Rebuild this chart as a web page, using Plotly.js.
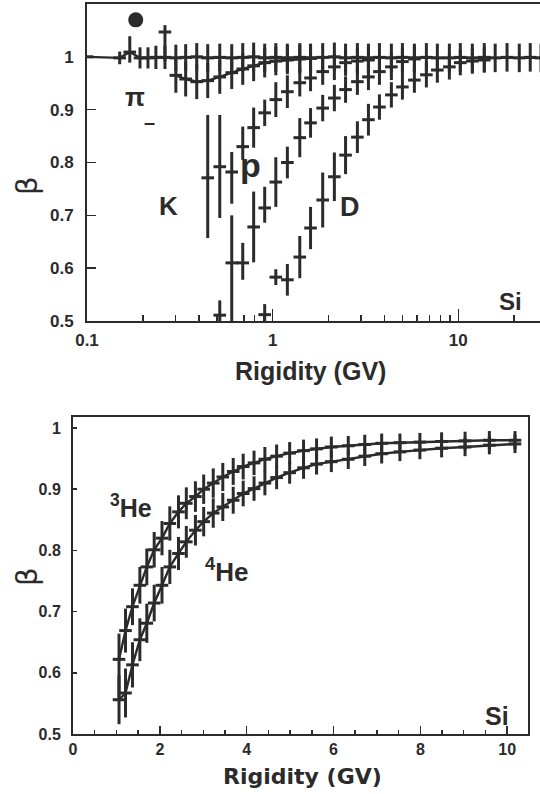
<!DOCTYPE html>
<html><head><meta charset="utf-8">
<script src="https://cdn.plot.ly/plotly-3.0.1.min.js"></script>
<style>html,body{margin:0;padding:0;background:#fff}#chart{width:540px;height:794px}</style>
</head><body><div id="chart"></div>
<script>
// ---------- TOP PANEL DATA (Rigidity GV, beta) ----------
const bandX = [0.1, 0.150, 0.170, 0.193, 0.213, 0.235, 0.263, 0.301, 0.340, 0.390, 0.447, 0.519, 0.602, 0.690, 0.790, 0.906, 1.04, 1.20, 1.40, 1.60, 1.86, 2.15, 2.47, 2.86, 3.28, 3.76, 4.36, 5.00, 5.80, 6.73, 7.71, 8.95, 10.25, 11.9, 13.8, 15.8, 18.3, 21.3, 24.4, 27.9];
const bandY = [1.000, 0.998, 1.009, 0.998, 0.998, 0.999, 0.999, 0.998, 0.999, 1.000, 0.998, 0.999, 0.998, 0.999, 1.000, 0.998, 0.999, 0.998, 0.999, 0.998, 0.999, 1.000, 0.998, 0.999, 0.998, 0.999, 0.998, 0.999, 0.998, 0.999, 0.998, 0.998, 0.999, 0.998, 0.999, 0.998, 0.999, 0.998, 0.999, 0.998];
const bandErrUp = [0, 0.012, 0.03, 0.02, 0.02, 0.022, 0.022, 0.025, 0.025, 0.026, 0.026, 0.026, 0.026, 0.027, 0.027, 0.027, 0.027, 0.027, 0.027, 0.027, 0.027, 0.027, 0.027, 0.027, 0.027, 0.027, 0.027, 0.027, 0.027, 0.027, 0.027, 0.027, 0.027, 0.027, 0.027, 0.027, 0.027, 0.027, 0.027, 0.027];
const bandErrDn = [0, 0.012, 0.02, 0.02, 0.02, 0.022, 0.022, 0.025, 0.025, 0.026, 0.026, 0.026, 0.026, 0.027, 0.027, 0.027, 0.027, 0.027, 0.027, 0.027, 0.027, 0.027, 0.027, 0.027, 0.027, 0.027, 0.027, 0.027, 0.027, 0.027, 0.027, 0.027, 0.027, 0.027, 0.027, 0.027, 0.027, 0.027, 0.027, 0.027];

const hiX = [0.263];
const hiY = [1.047];
const hiErrUp = [0.013];
const hiErrDn = [0.055];

const dotX = [0.183];
const dotY = [1.07];

const piX = [0.301, 0.340, 0.390, 0.447, 0.519, 0.602, 0.690, 0.790, 0.906, 1.04, 1.20, 1.40, 1.60];
const piY = [0.965, 0.958, 0.953, 0.955, 0.962, 0.970, 0.977, 0.983, 0.989, 0.992, 0.994, 0.996, 0.997];
const piErr = [0.033, 0.033, 0.033, 0.033, 0.032, 0.031, 0.03, 0.029, 0.028, 0.027, 0.027, 0.027, 0.027];

const kX = [0.447, 0.519, 0.602, 0.690, 0.790, 0.906, 1.04, 1.20, 1.40, 1.60, 1.86, 2.15, 2.47, 2.86, 3.28];
const kY = [0.771, 0.792, 0.782, 0.830, 0.866, 0.894, 0.919, 0.934, 0.951, 0.960, 0.972, 0.981, 0.989, 0.992, 0.994];
const kErrUp = [0.119, 0.098, 0.038, 0.038, 0.038, 0.025, 0.033, 0.031, 0.026, 0.025, 0.025, 0.025, 0.025, 0.025, 0.025];
const kErrDn = [0.114, 0.097, 0.06, 0.025, 0.038, 0.025, 0.033, 0.031, 0.026, 0.025, 0.025, 0.025, 0.025, 0.025, 0.025];

const pX = [0.519, 0.602, 0.690, 0.790, 0.906, 1.04, 1.20, 1.40, 1.60, 1.86, 2.15, 2.47, 2.86, 3.28, 3.76, 4.36, 5.00, 5.80];
const pY = [0.511, 0.610, 0.610, 0.678, 0.714, 0.763, 0.800, 0.847, 0.875, 0.903, 0.922, 0.938, 0.953, 0.962, 0.972, 0.981, 0.991, 0.996];
const pErrUp = [0.028, 0.09, 0.038, 0.067, 0.04, 0.047, 0.03, 0.037, 0.028, 0.025, 0.025, 0.025, 0.025, 0.025, 0.025, 0.025, 0.025, 0.025];
const pErrDn = [0.02, 0.2, 0.032, 0.067, 0.028, 0.047, 0.03, 0.037, 0.028, 0.025, 0.025, 0.025, 0.025, 0.025, 0.025, 0.025, 0.025, 0.025];

const dX = [0.906, 1.04, 1.20, 1.40, 1.60, 1.86, 2.15, 2.47, 2.86, 3.28, 3.76, 4.36, 5.00, 5.80, 6.73, 7.71, 8.95, 10.25, 11.9, 13.8];
const dY = [0.512, 0.583, 0.578, 0.621, 0.676, 0.729, 0.773, 0.814, 0.848, 0.881, 0.905, 0.928, 0.943, 0.956, 0.966, 0.975, 0.981, 0.989, 0.992, 0.994];
const dErr = [0.02, 0.015, 0.03, 0.04, 0.04, 0.052, 0.046, 0.036, 0.03, 0.03, 0.024, 0.024, 0.024, 0.024, 0.024, 0.024, 0.024, 0.024, 0.024, 0.024];

// ---------- BOTTOM PANEL DATA ----------
const heX = [1.06, 1.21, 1.37, 1.54, 1.70, 1.87, 2.05, 2.23, 2.43, 2.61, 2.82, 3.01, 3.23, 3.45, 3.69, 3.92, 4.17, 4.42, 4.69, 4.99, 5.31, 5.61, 5.95, 6.34, 6.72, 7.11, 7.53, 7.99, 8.49, 9.03, 9.59, 10.18];
const he3Y = [0.622, 0.669, 0.708, 0.743, 0.773, 0.801, 0.820, 0.844, 0.863, 0.877, 0.888, 0.900, 0.910, 0.920, 0.929, 0.937, 0.943, 0.949, 0.954, 0.959, 0.963, 0.966, 0.969, 0.971, 0.973, 0.975, 0.976, 0.977, 0.978, 0.979, 0.980, 0.980];
const he3ErrUp = [0.042, 0.036, 0.03, 0.03, 0.03, 0.029, 0.028, 0.028, 0.027, 0.026, 0.025, 0.024, 0.024, 0.023, 0.022, 0.021, 0.02, 0.02, 0.019, 0.018, 0.018, 0.017, 0.017, 0.016, 0.016, 0.016, 0.015, 0.015, 0.015, 0.015, 0.015, 0.015];
const he3ErrDn = [0.065, 0.036, 0.03, 0.03, 0.03, 0.029, 0.028, 0.028, 0.027, 0.026, 0.025, 0.024, 0.024, 0.023, 0.022, 0.021, 0.02, 0.02, 0.019, 0.018, 0.018, 0.017, 0.017, 0.016, 0.016, 0.016, 0.015, 0.015, 0.015, 0.015, 0.015, 0.015];
const he4Y = [0.556, 0.567, 0.613, 0.654, 0.681, 0.714, 0.743, 0.773, 0.795, 0.814, 0.833, 0.847, 0.861, 0.871, 0.882, 0.893, 0.901, 0.910, 0.919, 0.927, 0.935, 0.941, 0.945, 0.949, 0.954, 0.958, 0.961, 0.964, 0.967, 0.969, 0.972, 0.974];
const he4Err = [0.04, 0.04, 0.037, 0.035, 0.032, 0.03, 0.03, 0.028, 0.027, 0.026, 0.025, 0.024, 0.024, 0.023, 0.022, 0.021, 0.02, 0.02, 0.019, 0.018, 0.018, 0.017, 0.017, 0.016, 0.016, 0.016, 0.015, 0.015, 0.015, 0.015, 0.015, 0.015];

// ---------- TICKS ----------
const topXTicks = [0.1, 1, 10];
const topXLabels = ['0.1', '1', '10'];
const topXMinor = [0.2,0.3,0.4,0.5,0.6,0.7,0.8,0.9,2,3,4,5,6,7,8,9,20];
const topYTicks = [0.5, 0.6, 0.7, 0.8, 0.9, 1];
const topYLabels = ['0.5', '0.6', '0.7', '0.8', '0.9', '1'];
const botXTicks = [0, 2, 4, 6, 8, 10];
const botXLabels = ['0', '2', '4', '6', '8', '10'];
const botYTicks = [0.5, 0.6, 0.7, 0.8, 0.9, 1];
const botYLabels = ['0.5', '0.6', '0.7', '0.8', '0.9', '1'];

const INK = '#2b2b2b';
const TF = {family: 'Liberation Sans, Arial, sans-serif', size: 17, color: INK, weight: 700};

function errTrace(x, y, up, dn, xa, ya, mode) {
  return {
    type: 'scatter', x: x, y: y, xaxis: xa, yaxis: ya, mode: mode || 'markers',
    line: {color: INK, width: 2.4},
    marker: {symbol: 'line-ew', size: 9, color: INK, line: {color: INK, width: 3}},
    error_y: {type: 'data', symmetric: false, array: up, arrayminus: dn, thickness: 3, width: 0, color: INK},
    showlegend: false, hoverinfo: 'skip'
  };
}

const traces = [
  errTrace(bandX, bandY, bandErrUp, bandErrDn, 'x', 'y', 'lines+markers'),
  errTrace(piX, piY, piErr, piErr, 'x', 'y', 'lines+markers'),
  errTrace(kX, kY, kErrUp, kErrDn, 'x', 'y'),
  errTrace(pX, pY, pErrUp, pErrDn, 'x', 'y'),
  errTrace(dX, dY, dErr, dErr, 'x', 'y'),
  errTrace(hiX, hiY, hiErrUp, hiErrDn, 'x', 'y'),
  {type: 'scatter', x: dotX, y: dotY, xaxis: 'x', yaxis: 'y', mode: 'markers',
   marker: {symbol: 'circle', size: 15, color: INK}, showlegend: false, hoverinfo: 'skip'},
  errTrace(heX, he3Y, he3ErrUp, he3ErrDn, 'x2', 'y2', 'lines+markers'),
  errTrace(heX, he4Y, he4Err, he4Err, 'x2', 'y2', 'lines+markers')
];

const W = 540, H = 794;
const px = v => v / W;
const py = v => 1 - v / H;

function ann(text, x, y, size, family, extra, weight) {
  return Object.assign({
    text: text, xref: 'paper', yref: 'paper', x: px(x), y: py(y),
    xanchor: 'center', yanchor: 'middle', showarrow: false,
    font: {family: family || 'Liberation Sans, Arial, sans-serif', size: size, color: INK, weight: weight || 700}
  }, extra || {});
}

const layout = {
  width: W, height: H, margin: {l: 0, r: 0, t: 0, b: 0},
  paper_bgcolor: '#fff', plot_bgcolor: '#fff', showlegend: false,
  xaxis: {
    type: 'log', domain: [px(87), 1], range: [-1, 1.44], anchor: 'y',
    showgrid: false, zeroline: false, showline: true, linecolor: INK, linewidth: 2, mirror: true,
    tickmode: 'array', tickvals: topXTicks, ticktext: topXLabels, ticks: 'inside', ticklen: 12, tickwidth: 1.5, tickcolor: INK,
    minor: {tickmode: 'array', tickvals: topXMinor, ticks: 'inside', ticklen: 6, tickwidth: 1.5, tickcolor: INK, showgrid: false},
    tickfont: TF, ticklabelstandoff: 3
  },
  yaxis: {
    domain: [py(321), py(4)], range: [0.5, 1.1], anchor: 'x',
    showgrid: false, zeroline: false, showline: true, linecolor: INK, linewidth: 2, mirror: false,
    tickmode: 'array', tickvals: topYTicks, ticktext: topYLabels, ticks: 'inside', ticklen: 9, tickwidth: 1.5, tickcolor: INK,
    tickfont: TF, ticklabelstandoff: 8
  },
  xaxis2: {
    domain: [px(73), px(528)], range: [0, 10.48], anchor: 'y2',
    showgrid: false, zeroline: false, showline: true, linecolor: INK, linewidth: 2, mirror: true,
    tickmode: 'array', tickvals: botXTicks, ticktext: botXLabels, ticks: 'inside', ticklen: 8, tickwidth: 1.5, tickcolor: INK,
    minor: {dtick: 0.5, tick0: 0, ticks: 'inside', ticklen: 4, tickwidth: 1.5, tickcolor: INK, showgrid: false},
    tickfont: Object.assign({}, TF, {size: 16}), ticklabelstandoff: 0
  },
  yaxis2: {
    domain: [py(734), py(417)], range: [0.5, 1.018], anchor: 'x2',
    showgrid: false, zeroline: false, showline: true, linecolor: INK, linewidth: 2, mirror: true,
    tickmode: 'array', tickvals: botYTicks, ticktext: botYLabels, ticks: 'inside', ticklen: 4, tickwidth: 1.5, tickcolor: INK,
    tickfont: Object.assign({}, TF, {size: 16}), ticklabelstandoff: 7
  },
  annotations: [
    ann('Rigidity (GV)', 310, 371, 25),
    ann('Rigidity (GV)', 302, 776, 22, 'DejaVu Sans, sans-serif'),
    ann('β', 27, 186, 29, 'DejaVu Sans, sans-serif', {textangle: -90}, 400),
    ann('β', 27, 577, 29, 'DejaVu Sans, sans-serif', {textangle: -90}, 400),
    ann('π', 135, 97, 26),
    ann('–', 149, 122, 20),
    ann('K', 168, 206, 26),
    ann('p', 250, 165, 34),
    ann('D', 350, 207, 27),
    ann('Si', 510, 302, 24),
    ann('Si', 497, 716, 25),
    ann('<sup>3</sup>He', 131, 506, 25),
    ann('<sup>4</sup>He', 226, 570, 26)
  ]
};

Plotly.newPlot('chart', traces, layout, {staticPlot: true, displayModeBar: false});
</script></body></html>
